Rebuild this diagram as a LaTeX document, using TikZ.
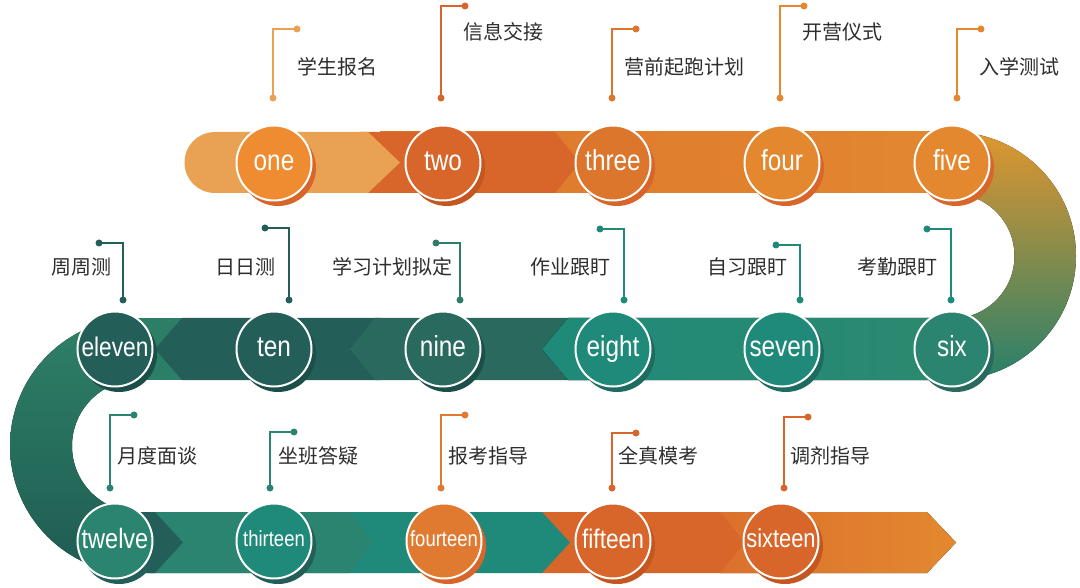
\documentclass[tikz,border=0pt]{standalone}
\usepackage{fontspec}
\newfontfamily\cjk{Noto Sans CJK SC}
\newfontfamily\numf[FakeStretch=0.84]{Liberation Sans}
\definecolor{orL}{HTML}{E9A254}
\definecolor{orD}{HTML}{D8662A}
\definecolor{orDD}{HTML}{C4561F}
\definecolor{orM}{HTML}{DD762D}
\definecolor{orF}{HTML}{E3882F}
\definecolor{orB}{HTML}{EF8B30}
\definecolor{orK}{HTML}{E07A30}
\definecolor{orE}{HTML}{DC702C}
\definecolor{tealC}{HTML}{1F8A7A}
\definecolor{tealR}{HTML}{2C896E}
\definecolor{gA}{HTML}{2B8470}
\definecolor{gD}{HTML}{2A6A5E}
\definecolor{gDD}{HTML}{235F58}
\definecolor{gE}{HTML}{2D7E67}
\definecolor{gS}{HTML}{1C4F49}
\definecolor{gT}{HTML}{1E6B60}
\definecolor{arT}{HTML}{E0962F}
\definecolor{arM}{HTML}{A89C55}
\definecolor{arB}{HTML}{27806A}
\definecolor{alT}{HTML}{2E8068}
\definecolor{alB}{HTML}{1F5C52}
\definecolor{labc}{HTML}{2E2E2E}
\tikzset{
 disc/.style={circle, minimum size=75pt, inner sep=0pt, draw=white, line width=2pt},
 num/.style={text=white, inner sep=0pt, anchor=base},
 dotn/.style={circle, minimum size=7pt, inner sep=0pt},
 conn/.style={line width=1.8pt},
 lbl/.style={font=\cjk\fontsize{20}{24}\selectfont, text=labc, inner sep=0pt},
}
\begin{document}
\begin{tikzpicture}[x=1pt,y=-1pt]
\useasboundingbox[fill=white] (0,0) rectangle (1080,588);

% right arc
\fill[top color=arT, middle color=arM, bottom color=arB]
  (952,132) arc[start angle=-90,end angle=90,radius=124] -- (952,318.5) arc[start angle=90,end angle=-90,radius=62.5] -- cycle;
% left arc
\fill[top color=alT, bottom color=alB]
  (138,318) arc[start angle=-90,end angle=-270,radius=128] -- (138,512) arc[start angle=90,end angle=270,radius=66] -- cycle;

% top band
\fill[left color=orM, right color=orF] (380,132) rectangle (965,193);
\fill[orD] (360,132) -- (555,132) -- (580,162.5) -- (555,193) -- (360,193) -- cycle;
\fill[orL] (215,132) -- (368,132) -- (400,162.5) -- (368,193) -- (215,193) arc[start angle=90,end angle=270,radius=30.5] -- cycle;

% middle band
\fill[gE] (110,318) rectangle (200,380);
\fill[gDD] (182,318) -- (380,318) -- (380,380) -- (182,380) -- (155,349) -- cycle;
\fill[gD] (375,318) -- (600,318) -- (600,380) -- (375,380) -- (350,349) -- cycle;
\fill[left color=tealC, right color=tealR] (568,318) -- (955,318) -- (955,380) -- (568,380) -- (542,349) -- cycle;

% bottom band
\fill[left color=orE, right color=orF] (720,512) -- (927,512) -- (956,542.5) -- (927,573) -- (720,573) -- cycle;
\fill[orD] (540,512) -- (720,512) -- (745,542.5) -- (720,573) -- (540,573) -- cycle;
\fill[tealC] (150,512) -- (542,512) -- (570,542.5) -- (542,573) -- (150,573) -- cycle;
\fill[gA] (110,512) -- (350,512) -- (372,542.5) -- (350,573) -- (110,573) -- cycle;
\fill[gDD] (110,512) -- (155,512) -- (183,542.5) -- (155,573) -- (110,573) -- cycle;

% circles
\foreach \n/\x/\y/\fc/\sc/\fs/\txt in {
 1/274/163/orB/orD/29/one, 2/443/163/orD/orDD/29/two, 3/613/163/orM/orD/29/three,
 4/782/163/orF/orD/29/four, 5/952/163/orF/orD/29/five,
 6/952/349/gA/gD/29/six, 7/782/349/tealC/gT/29/seven, 8/613/349/tealC/gT/29/eight,
 9/443/349/gD/gS/29/nine, 10/274/349/gDD/gS/29/ten, 11/115/349/gDD/gS/27/eleven,
 12/115/541/gA/gDD/28/twelve, 13/274/541/tealC/gDD/22/thirteen, 14/444/541/orK/orD/22/fourteen,
 15/613/541/orD/orDD/27/fifteen, 16/781/541/orD/orDD/26/sixteen}{
 \fill[\sc] (\x+4,\y+5) circle[radius=38];
 \node[disc, fill=\fc] (c\n) at (\x,\y) {};
 \node[num, font=\numf\fontsize{\fs}{\fs}\selectfont] (n\n) at ({\x},{\y+0.26*\fs}) {\txt};
}

% top row leaders
\foreach \n/\xv/\yt/\col/\lx/\ly/\txt in {
 1/273/29/orL/297/68/学生报名, 2/441/6/orD/463/33/信息交接, 3/612/29/orM/624/68/营前起跑计划,
 4/780/6/orF/802/33/开营仪式, 5/957/29/orF/979/68/入学测试}{
 \node[dotn, fill=\col] (b\n) at (\xv,98) {};
 \node[dotn, fill=\col] (t\n) at (\xv+24,\yt) {};
 \draw[conn, draw=\col] (b\n.center) |- (t\n.center);
 \node[lbl, anchor=base west] (l\n) at (\lx,\ly+7) {\txt};
}
% middle row leaders
\foreach \n/\xv/\yt/\col/\lx/\txt in {
 6/951/229/tealC/938/考勤跟盯, 7/800/245/tealC/788/自习跟盯, 8/624/229/tealC/611/作业跟盯,
 9/460/243/gE/453/学习计划拟定, 10/289/228/gDD/276/日日测, 11/123/243/gDD/112/周周测}{
 \node[dotn, fill=\col] (b\n) at (\xv,300) {};
 \node[dotn, fill=\col] (t\n) at (\xv-24,\yt) {};
 \draw[conn, draw=\col] (t\n.center) -| (b\n.center);
 \node[lbl, anchor=base east] (l\n) at (\lx,275) {\txt};
}
% bottom row leaders
\foreach \n/\xv/\yt/\col/\lx/\txt in {
 12/110/415/gA/117/月度面谈, 13/270/432/gA/278/坐班答疑, 14/441/415/orK/448/报考指导,
 15/612/433/orD/618/全真模考, 16/784/417/orD/790/调剂指导}{
 \node[dotn, fill=\col] (b\n) at (\xv,488) {};
 \node[dotn, fill=\col] (t\n) at (\xv+24,\yt) {};
 \draw[conn, draw=\col] (b\n.center) |- (t\n.center);
 \node[lbl, anchor=base west] (l\n) at (\lx,463) {\txt};
}
\end{tikzpicture}
\end{document}
